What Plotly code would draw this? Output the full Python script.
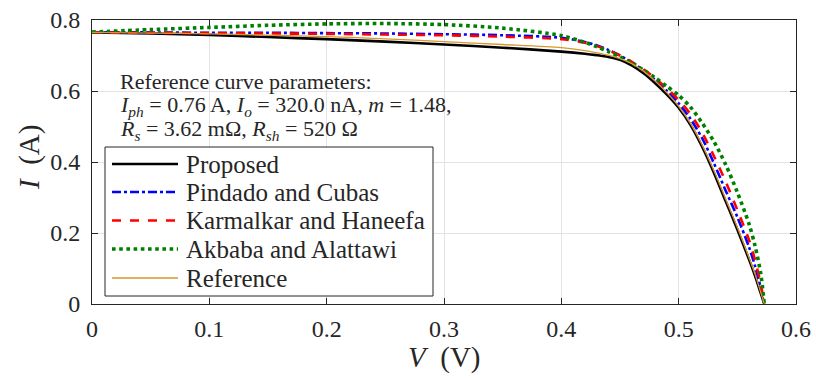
import plotly.graph_objects as go

V = [0, 0.05, 0.1, 0.15, 0.2, 0.25, 0.3, 0.35, 0.4, 0.42, 0.43, 0.44, 0.45, 0.46, 0.47,
     0.48, 0.49, 0.50, 0.51, 0.52, 0.53, 0.54, 0.55, 0.56, 0.565, 0.57, 0.573]

I_proposed = [0.765, 0.762, 0.758, 0.752, 0.746, 0.739, 0.731, 0.722, 0.711, 0.705, 0.701, 0.696,
              0.688, 0.672, 0.650, 0.622, 0.590, 0.553, 0.505, 0.443, 0.370, 0.290, 0.210,
              0.125, 0.080, 0.030, 0]
I_pindado = [0.765, 0.765, 0.764, 0.764, 0.763, 0.762, 0.760, 0.757, 0.750, 0.738, 0.729, 0.716,
             0.700, 0.681, 0.658, 0.631, 0.600, 0.565, 0.522, 0.467, 0.397, 0.320, 0.245,
             0.160, 0.108, 0.045, 0]
I_karmalkar = [0.765, 0.764, 0.763, 0.762, 0.761, 0.759, 0.757, 0.753, 0.746, 0.736, 0.727, 0.715,
               0.700, 0.682, 0.661, 0.636, 0.607, 0.575, 0.535, 0.483, 0.417, 0.345, 0.265,
               0.180, 0.125, 0.055, 0]
I_akbaba = [0.766, 0.773, 0.779, 0.785, 0.789, 0.790, 0.787, 0.777, 0.756, 0.737, 0.725, 0.711,
            0.696, 0.679, 0.659, 0.637, 0.613, 0.588, 0.555, 0.510, 0.458, 0.393, 0.315,
            0.225, 0.165, 0.085, 0]
I_reference = [0.765, 0.763, 0.761, 0.757, 0.753, 0.747, 0.739, 0.731, 0.722, 0.714, 0.708, 0.701,
               0.691, 0.677, 0.656, 0.628, 0.595, 0.557, 0.509, 0.448, 0.376, 0.296, 0.216,
               0.130, 0.085, 0.032, 0]

series_names = ["Proposed", "Pindado and Cubas", "Karmalkar and Haneefa",
                "Akbaba and Alattawi", "Reference"]
series_values = [I_proposed, I_pindado, I_karmalkar, I_akbaba, I_reference]
series_styles = [
    dict(color="black", width=2.6, dash="solid"),
    dict(color="#0000ff", width=2.6, dash="dashdot"),
    dict(color="#ff0000", width=2.6, dash="dash"),
    dict(color="#008000", width=3.6, dash="dot"),
    dict(color="#d9962e", width=1.3, dash="solid"),
]

FONT = "Liberation Serif"
TXT = "#262626"

fig = go.Figure()
for name, I, line in zip(series_names, series_values, series_styles):
    fig.add_trace(go.Scatter(x=V, y=I, mode="lines", name=name, showlegend=False,
                             line=dict(shape="spline", smoothing=0.8, **line)))

# plot area in pixels: x 92..796, y 20..304
L, R, T, B = 92, 796, 20, 304
W, H = R - L, B - T
def px(x):
    return (x - L) / W
def py(y):
    return (B - y) / H

fig.update_layout(
    width=816, height=379,
    margin=dict(l=L, r=816 - R, t=T, b=379 - B, autoexpand=False),
    paper_bgcolor="white", plot_bgcolor="white",
    font=dict(family=FONT, size=24, color=TXT),
    showlegend=False,
    xaxis=dict(range=[0, 0.6], tickvals=[0, 0.1, 0.2, 0.3, 0.4, 0.5, 0.6],
               ticktext=["0", "0.1", "0.2", "0.3", "0.4", "0.5", "0.6"],
               ticks="inside", ticklen=6, tickcolor=TXT, mirror="ticks",
               showline=True, linecolor=TXT, linewidth=1, ticklabelstandoff=3,
               showgrid=True, gridcolor="#e3e3e3", gridwidth=1, zeroline=False),
    yaxis=dict(range=[0, 0.8], tickvals=[0, 0.2, 0.4, 0.6, 0.8],
               ticktext=["0", "0.2", "0.4", "0.6", "0.8"],
               ticks="inside", ticklen=6, tickcolor=TXT, mirror="ticks",
               showline=True, linecolor=TXT, linewidth=1, ticklabelstandoff=6,
               showgrid=True, gridcolor="#e3e3e3", gridwidth=1, zeroline=False),
)

# axis titles
fig.add_annotation(xref="paper", yref="paper", x=px(444), y=py(357), xanchor="center",
                   yanchor="middle", showarrow=False, text="<i>V</i>&nbsp; (V)",
                   font=dict(family=FONT, size=29, color=TXT))
fig.add_annotation(xref="paper", yref="paper", x=px(29), y=py(158), xanchor="center",
                   yanchor="middle", showarrow=False, text="<i>I</i>&nbsp; (A)", textangle=-90,
                   font=dict(family=FONT, size=29, color=TXT))

# parameter text
param_lines = [
    "Reference curve parameters:",
    "<i>I</i><sub><i>ph</i></sub> = 0.76 A, <i>I</i><sub><i>o</i></sub> = 320.0 nA, <i>m</i> = 1.48,",
    "<i>R</i><sub><i>s</i></sub> = 3.62 mΩ, <i>R</i><sub><i>sh</i></sub> = 520 Ω",
]
for txt, yc in zip(param_lines, [81, 106, 130]):
    fig.add_annotation(xref="paper", yref="paper", x=px(118), y=py(yc), xanchor="left",
                       yanchor="middle", showarrow=False, text=txt,
                       font=dict(family=FONT, size=22, color=TXT))

# legend box
fig.add_shape(type="rect", xref="paper", yref="paper", x0=px(105), x1=px(433),
              y0=py(296), y1=py(147), line=dict(color=TXT, width=1), fillcolor="white",
              layer="above")
row_y = [164, 192, 220.5, 249, 278]
for name, line, yc in zip(series_names, series_styles, row_y):
    fig.add_shape(type="line", xref="paper", yref="paper", x0=px(112), x1=px(178),
                  y0=py(yc), y1=py(yc), line=line, layer="above")
    fig.add_annotation(xref="paper", yref="paper", x=px(184), y=py(yc), xanchor="left",
                       yanchor="middle", showarrow=False, text=name,
                       font=dict(family=FONT, size=25, color=TXT))

fig.write_html("out.html", config={"displayModeBar": False})

with open("out.html", "r", encoding="utf-8") as f:
    html = f.read()
html = html.replace("<head>", "<head><style>html,body{margin:0;padding:0;overflow:hidden}</style>", 1)
with open("out.html", "w", encoding="utf-8") as f:
    f.write(html)
